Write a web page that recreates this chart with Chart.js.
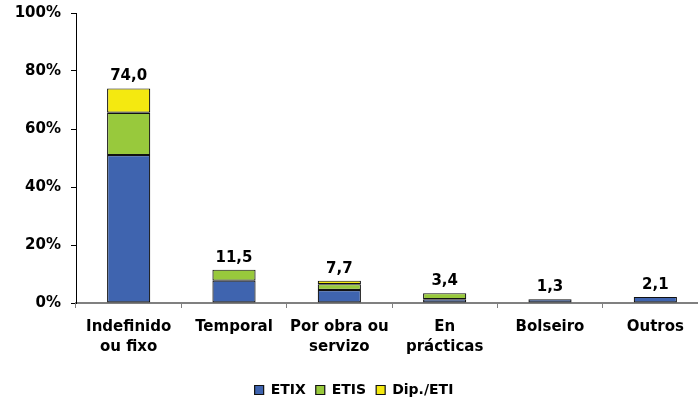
<!DOCTYPE html>
<html>
<head>
<meta charset="utf-8">
<script src="https://cdn.jsdelivr.net/npm/chart.js@4/dist/chart.umd.min.js"></script>
<style>
  html, body { margin: 0; padding: 0; background: #fff; overflow: hidden; }
  #wrap { position: relative; width: 710px; height: 407px; }
</style>
</head>
<body>
<div id="wrap"><canvas id="c"></canvas></div>
<script>
const categories = [
  ["Indefinido", "ou fixo"],
  ["Temporal"],
  ["Por obra ou", "servizo"],
  ["En", "prácticas"],
  ["Bolseiro"],
  ["Outros"]
];
const etix   = [51.0, 7.7, 4.5, 1.3, 1.3, 2.1];
const etis   = [14.6, 3.8, 2.0, 2.1, 0, 0];
const dipEti = [8.4, 0, 1.2, 0, 0, 0];
const seriesNames = ["ETIX", "ETIS", "Dip./ETI"];
const yTicks = [0, 20, 40, 60, 80, 100];

const FONT = "'DejaVu Sans', Verdana, sans-serif";

const totalsPlugin = {
  id: 'totals',
  afterDatasetsDraw(chart) {
    const ctx = chart.ctx;
    const y = chart.scales.y;
    const x = chart.scales.x;
    ctx.save();
    ctx.font = "bold 15px " + FONT;
    ctx.fillStyle = "#000";
    ctx.textAlign = "center";
    ctx.textBaseline = "alphabetic";
    categories.forEach((c, i) => {
      const total = chart.data.datasets.reduce((s, d) => s + (d.data[i] || 0), 0);
      const px = x.getPixelForValue(i);
      const py = y.getPixelForValue(total);
      ctx.fillText(total.toFixed(1).replace('.', ','), px, py - 8);
    });
    ctx.restore();
  }
};

const barStyle = { borderColor: '#111', borderWidth: 1.2, borderSkipped: false };

new Chart(document.getElementById('c'), {
  type: 'bar',
  data: {
    labels: categories,
    datasets: [
      Object.assign({ label: seriesNames[0], data: etix,   backgroundColor: '#3F64AF' }, barStyle),
      Object.assign({ label: seriesNames[1], data: etis,   backgroundColor: '#98C93C' }, barStyle),
      Object.assign({ label: seriesNames[2], data: dipEti, backgroundColor: '#F4E910' }, barStyle)
    ]
  },
  options: {
    responsive: true,
    maintainAspectRatio: false,
    animation: false,
    layout: { padding: { top: 13, right: 2, left: 0, bottom: 0 } },
    datasets: { bar: { barPercentage: 0.41, categoryPercentage: 1.0 } },
    plugins: {
      tooltip: { enabled: false },
      legend: {
        position: 'bottom',
        labels: {
          boxWidth: 9,
          boxHeight: 9,
          padding: 10,
          color: '#000',
          font: { family: FONT, size: 14, weight: 'bold' }
        }
      }
    },
    scales: {
      x: {
        stacked: true,
        afterFit(scale) { scale.height = 70; scale.paddingLeft = 0; scale.paddingRight = 0; },
        border: { color: '#808080', width: 2 },
        grid: { display: true, drawOnChartArea: false, drawTicks: true, tickLength: 5, color: '#808080', offset: true },
        ticks: {
          color: '#000',
          padding: 9,
          maxRotation: 0,
          autoSkip: false,
          font: { family: FONT, size: 15, weight: 'bold', lineHeight: 1.333 }
        }
      },
      y: {
        stacked: true,
        min: 0,
        max: 100,
        afterFit(scale) { scale.width = 76; scale.paddingTop = 0; scale.paddingBottom = 0; },
        afterBuildTicks(scale) { scale.ticks = yTicks.map(v => ({ value: v })); },
        border: { color: '#000', width: 1 },
        grid: { display: true, drawOnChartArea: false, drawTicks: true, tickLength: 5, color: '#000' },
        ticks: {
          color: '#000',
          padding: 10,
          callback: v => v + '%',
          font: { family: FONT, size: 15, weight: 'bold' }
        }
      }
    }
  },
  plugins: [totalsPlugin]
});
</script>
</body>
</html>
